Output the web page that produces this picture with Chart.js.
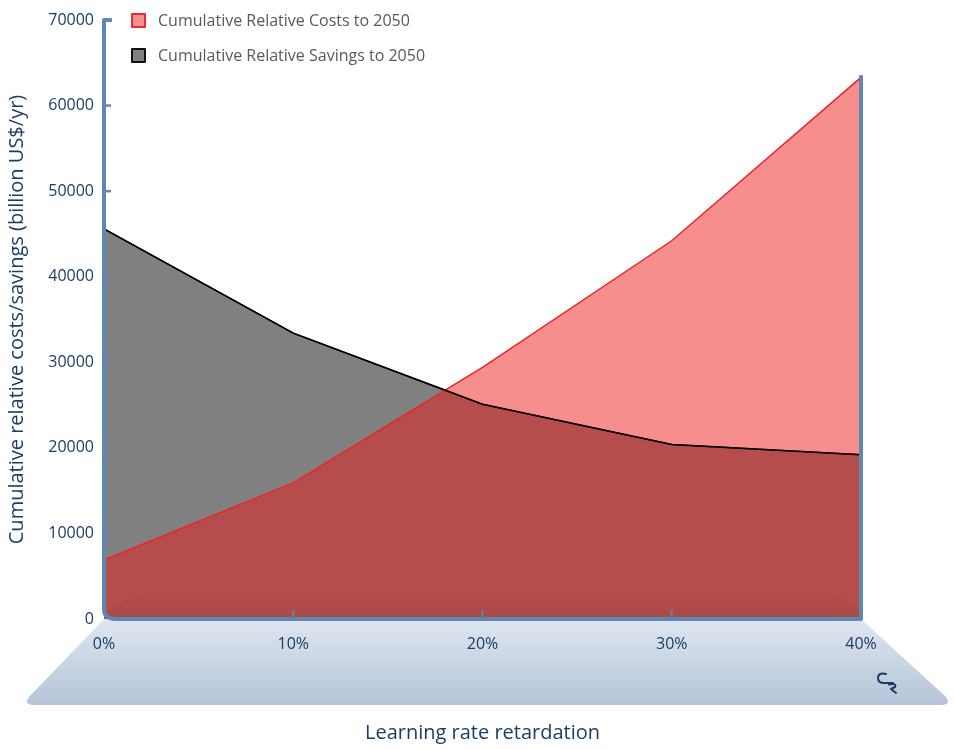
<!DOCTYPE html>
<html>
<head>
<meta charset="utf-8">
<script src="https://cdn.jsdelivr.net/npm/chart.js@4.4.1/dist/chart.umd.min.js"></script>
<style>
html,body{margin:0;padding:0;background:#fff;}
#wrap{width:954px;height:749px;position:relative;}
</style>
</head>
<body>
<div id="wrap"><canvas id="c" width="954" height="749"></canvas></div>
<script>
// ---- data ----
const categories = ['0%', '10%', '20%', '30%', '40%'];
const costs = [6900, 15900, 29400, 44200, 63300];
const savings = [45600, 33400, 25100, 20400, 19200];
const costsLabel = 'Cumulative Relative Costs to 2050';
const savingsLabel = 'Cumulative Relative Savings to 2050';
const yTicks = [0, 10000, 20000, 30000, 40000, 50000, 60000, 70000];

const NAVY = '#1d3d66';
const AXIS = '#5f87b4';
const FONT = '"Open Sans", "Noto Sans", sans-serif';

const floorPlugin = {
  id: 'floor',
  beforeDraw(chart) {
    const {ctx, chartArea: a} = chart;
    const top = a.bottom, bot = 705;
    const l0 = a.left, r0 = a.right, l1 = 25, r1 = 950;
    const g = ctx.createLinearGradient(0, top, 0, bot);
    g.addColorStop(0, '#dfe6f0');
    g.addColorStop(1, '#b4c4d8');
    ctx.save();
    ctx.fillStyle = g;
    ctx.beginPath();
    ctx.moveTo(l0, top);
    ctx.lineTo(r0, top);
    ctx.lineTo(r1 - 4, bot - 8);
    ctx.quadraticCurveTo(r1 + 2, bot, r1 - 10, bot);
    ctx.lineTo(l1 + 10, bot);
    ctx.quadraticCurveTo(l1 - 2, bot, l1 + 4, bot - 8);
    ctx.closePath();
    ctx.fill();
    // logo
    ctx.strokeStyle = NAVY;
    ctx.lineWidth = 2;
    ctx.lineCap = 'round';
    ctx.lineJoin = 'round';
    ctx.beginPath();
    ctx.moveTo(886, 674);
    ctx.quadraticCurveTo(878, 672, 878, 678);
    ctx.quadraticCurveTo(878, 683, 884, 683);
    ctx.lineTo(893, 683);
    ctx.stroke();
    ctx.beginPath();
    ctx.moveTo(889, 684.5);
    ctx.quadraticCurveTo(897, 683, 895, 687);
    ctx.lineTo(891, 689);
    ctx.lineTo(896, 693);
    ctx.stroke();
    ctx.restore();
  },
  afterDatasetsDraw(chart) {
    const {ctx, chartArea: a, scales} = chart;
    const y = scales.y, x = scales.x;
    ctx.save();
    // subtle inner floor shading
    const sg = ctx.createLinearGradient(0, a.bottom - 32, 0, a.bottom);
    sg.addColorStop(0, 'rgba(0,0,0,0)');
    sg.addColorStop(1, 'rgba(0,0,0,0.06)');
    ctx.fillStyle = sg;
    ctx.beginPath();
    ctx.moveTo(a.left + 2, a.bottom);
    ctx.lineTo(a.left + 2, a.bottom - 6);
    ctx.quadraticCurveTo(a.left + 30, a.bottom - 32, a.left + 110, a.bottom - 32);
    ctx.lineTo(a.right - 80, a.bottom - 32);
    ctx.quadraticCurveTo(a.right - 10, a.bottom - 30, a.right - 2, a.bottom - 6);
    ctx.lineTo(a.right - 2, a.bottom);
    ctx.closePath();
    ctx.fill();

    ctx.strokeStyle = AXIS;
    ctx.lineWidth = 4;
    ctx.lineJoin = 'round';
    // frame: left axis, bottom, right
    const yTop = y.getPixelForValue(70000);
    const rightTop = y.getPixelForValue(chart.data.datasets[0].data[4]) - 2;
    ctx.beginPath();
    ctx.moveTo(a.left + 8, yTop);
    ctx.lineTo(a.left, yTop);
    ctx.lineTo(a.left, a.bottom - 10);
    ctx.quadraticCurveTo(a.left, a.bottom, a.left + 12, a.bottom);
    ctx.lineTo(a.right, a.bottom);
    ctx.lineTo(a.right, rightTop);
    ctx.stroke();
    // y tick stubs
    ctx.lineWidth = 2.5;
    yTicks.forEach(v => {
      if (v === 0 || v === 70000) return;
      const py = y.getPixelForValue(v);
      ctx.beginPath();
      ctx.moveTo(a.left, py);
      ctx.lineTo(a.left + 7, py);
      ctx.stroke();
    });
    // x tick stubs
    ctx.lineWidth = 2;
    for (let i = 1; i < categories.length - 1; i++) {
      const px = x.getPixelForValue(i);
      ctx.beginPath();
      ctx.moveTo(px, a.bottom);
      ctx.lineTo(px, a.bottom - 9);
      ctx.stroke();
    }
    // legend
    const items = [
      {label: chart.data.datasets[0].label, fill: '#f68f8f', stroke: '#ee2a2a', y: 20},
      {label: chart.data.datasets[1].label, fill: '#808080', stroke: '#111', y: 55}
    ];
    ctx.font = '16px ' + FONT;
    ctx.textBaseline = 'middle';
    items.forEach(it => {
      ctx.fillStyle = it.fill;
      ctx.strokeStyle = it.stroke;
      ctx.lineWidth = 2;
      ctx.fillRect(132, it.y - 6, 13, 13);
      ctx.strokeRect(132, it.y - 6, 13, 13);
      ctx.fillStyle = '#595959';
      ctx.fillText(it.label, 158, it.y + 1);
    });
    ctx.restore();
  }
};

new Chart(document.getElementById('c'), {
  type: 'line',
  data: {
    labels: categories,
    datasets: [
      {
        label: costsLabel,
        data: costs,
        borderColor: '#ee2424',
        borderWidth: 1.5,
        backgroundColor: 'rgba(237,25,25,0.49)',
        fill: 'origin',
        pointRadius: 0,
        tension: 0,
        order: 1
      },
      {
        label: savingsLabel,
        data: savings,
        borderColor: '#000',
        borderWidth: 1.5,
        backgroundColor: '#808080',
        fill: 'origin',
        pointRadius: 0,
        tension: 0,
        order: 2
      },
      {
        label: savingsLabel + ' (line)',
        data: savings,
        borderColor: '#000',
        borderWidth: 1.5,
        fill: false,
        pointRadius: 0,
        tension: 0,
        order: 0
      }
    ]
  },
  options: {
    responsive: false,
    animation: false,
    devicePixelRatio: 1,
    layout: {padding: {top: 20, right: 93, left: 0, bottom: 0}},
    plugins: {legend: {display: false}, tooltip: {enabled: false}},
    scales: {
      x: {
        type: 'category',
        offset: false,
        grid: {display: false, drawTicks: false},
        border: {display: false},
        ticks: {color: NAVY, font: {family: FONT, size: 16}, padding: 16, maxRotation: 0},
        title: {display: true, text: 'Learning rate retardation', color: NAVY,
                font: {family: FONT, size: 20}, padding: {top: 0, bottom: 4}},
        afterFit(s) { s.width; s.height = 130; }
      },
      y: {
        min: 0, max: 70000,
        afterBuildTicks(s) { s.ticks = yTicks.map(v => ({value: v})); },
        grid: {display: false, drawTicks: false},
        border: {display: false},
        ticks: {color: NAVY, font: {family: FONT, size: 16}, padding: 10, callback: v => String(v)},
        title: {display: true, text: 'Cumulative relative costs/savings (billion US$/yr)', color: NAVY,
                font: {family: FONT, size: 20}, padding: {top: 5, bottom: 0}},
        afterFit(s) { s.width = 104; }
      }
    }
  },
  plugins: [floorPlugin]
});
</script>
</body>
</html>
